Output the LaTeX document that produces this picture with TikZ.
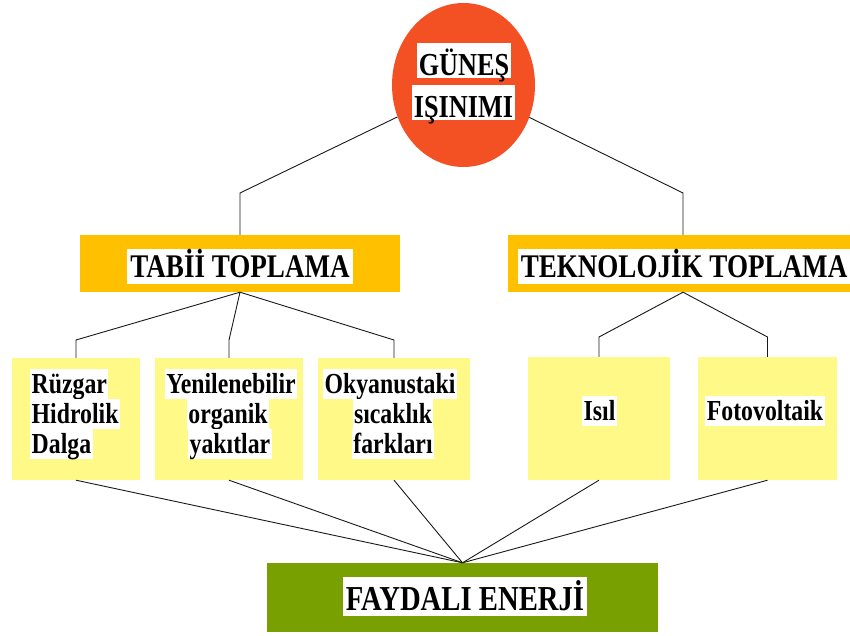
\documentclass[tikz,border=0pt]{standalone}
\usepackage{fontspec}
\setmainfont{Liberation Serif}[FakeStretch=0.82]
\usetikzlibrary{shapes.geometric}
\definecolor{sunred}{RGB}{243,80,35}
\definecolor{taborange}{RGB}{255,192,0}
\definecolor{lyel}{RGB}{255,250,135}
\definecolor{fgreen}{RGB}{120,160,0}
\begin{document}
\begin{tikzpicture}[x=1pt,y=-1pt,
  conn/.style={draw=black!90, line width=0.9pt},
  ybox/.style={fill=lyel, inner sep=0pt, minimum height=122pt},
  hlsmall/.style={fill=white, inner xsep=1.5pt, inner ysep=0pt, text height=24.5pt, text depth=5.5pt,
     font=\bfseries\fontsize{29}{30}\selectfont},
  hlbig/.style={fill=white, inner xsep=3pt, inner ysep=0.5pt, text height=28pt, text depth=6pt,
     font=\bfseries\fontsize{33}{36}\selectfont},
  hlsun/.style={fill=white, inner xsep=2pt, inner ysep=0.5pt, text height=32pt, text depth=2pt,
     font=\bfseries\fontsize{32}{34}\selectfont}]
\useasboundingbox (0,0) rectangle (850,636);
% shapes
\node[ellipse, fill=sunred, inner sep=0pt, minimum width=143pt, minimum height=164pt] (sun) at (463.5,85) {};
\node[fill=taborange, inner sep=0pt, minimum width=320pt, minimum height=57pt] (tabii) at (240,263.5) {};
\node[fill=taborange, inner sep=0pt, minimum width=342pt, minimum height=57pt] (tekno) at (679,263.5) {};
\node[ybox, minimum width=128pt] (b1) at (76,419) {};
\node[ybox, minimum width=148pt] (b2) at (229,419) {};
\node[ybox, minimum width=152pt] (b3) at (394,419) {};
\node[ybox, minimum width=142pt, minimum height=123pt] (b4) at (599,418.5) {};
\node[ybox, minimum width=139pt, minimum height=123pt] (b5) at (767.5,418.5) {};
\node[fill=fgreen, inner sep=0pt, minimum width=391pt, minimum height=69pt] (fay) at (462.5,597.5) {};
% connectors
\coordinate (j1) at (240,193);
\coordinate (j2) at (683,193);
\draw[conn] (sun) -- (j1) -- (tabii.north);
\draw[conn] (sun) -- (j2) -- (j2 |- tekno.north);
\draw[conn] (tabii.south) -- (b1.north |- 0,340) -- (b1.north);
\draw[conn] (tabii.south) -- (b2.north |- 0,340) -- (b2.north);
\draw[conn] (tabii.south) -- (b3.north |- 0,340) -- (b3.north);
\draw[conn] (j2 |- tekno.south) -- (b4.north |- 0,337) -- (b4.north);
\draw[conn] (j2 |- tekno.south) -- (b5.north |- 0,337) -- (b5.north);
\foreach \b in {b1,b2,b3,b4,b5}
  \draw[conn] (\b.south) -- (fay.north);
% texts
\node[hlsun, anchor=base] (sun1) at (464,76) {GÜNEŞ};
\node[hlsun, anchor=base] (sun2) at (463.5,118) {IŞINIMI};
\node[hlbig, anchor=base] (tabiit) at (240,277) {TABİİ TOPLAMA};
\node[hlbig, anchor=base] (teknot) at (684,277) {TEKNOLOJİK TOPLAMA};
\node[hlbig, anchor=base, text height=33pt, text depth=5pt, font=\bfseries\fontsize{35}{38}\selectfont] (fayt) at (465,610) {FAYDALI ENERJİ};
\node[hlsmall, anchor=base west] (b1a) at (30,393) {Rüzgar};
\node[hlsmall, anchor=base west] (b1b) at (30,423) {Hidrolik};
\node[hlsmall, anchor=base west] (b1c) at (30,453) {Dalga};
\node[hlsmall, anchor=base] (b2a) at (231,393) {Yenilenebilir};
\node[hlsmall, anchor=base] (b2b) at (228,423) {organik};
\node[hlsmall, anchor=base] (b2c) at (230,453) {yakıtlar};
\node[hlsmall, anchor=base] (b3a) at (390,393) {Okyanustaki};
\node[hlsmall, anchor=base] (b3b) at (393,423) {sıcaklık};
\node[hlsmall, anchor=base] (b3c) at (393,453) {farkları};
\node[hlsmall, anchor=base] (b4t) at (599.5,420) {Isıl};
\node[hlsmall, anchor=base] (b5t) at (765,420) {Fotovoltaik};
\end{tikzpicture}
\end{document}
